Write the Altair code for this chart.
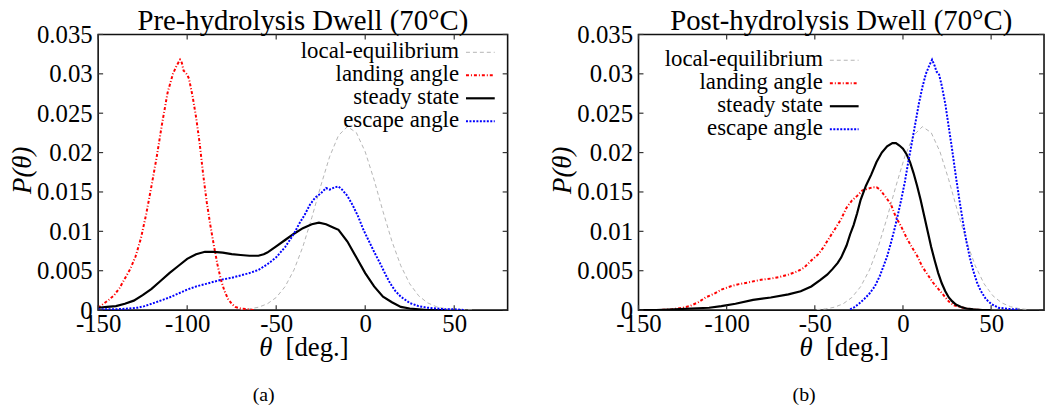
import altair as alt
import pandas as pd

SERIF = "Liberation Serif"

# axis ticks
X_TICKS = [-150, -100, -50, 0, 50]
Y_TICKS = [0, 0.005, 0.01, 0.015, 0.02, 0.025, 0.03, 0.035]

SERIES = ["local-equilibrium", "landing angle", "steady state", "escape angle"]
COLORS = ["#b4b4b4", "#ff0000", "#000000", "#0000ff"]
DASHES = [[4, 3], [3, 2, 1, 2], None, [2, 1.5]]
WIDTHS = [1, 2, 2.2, 2]

# ---- (a) pre-hydrolysis dwell ----
pre_eq_theta = [-70, -65, -60, -55, -50, -45, -40, -35, -30, -25, -20, -15, -10, -5,
                0, 5, 10, 15, 20, 25, 30, 35, 40, 45, 50, 55, 60]
pre_eq_p = [0.00006, 0.00015, 0.00036, 0.00079, 0.0016, 0.00298, 0.0051, 0.00806,
            0.01173, 0.01574, 0.01947, 0.02218, 0.02329, 0.02254, 0.0201, 0.01653,
            0.01252, 0.00874, 0.00563, 0.00334, 0.00182, 0.00092, 0.00043, 0.00018,
            0.00007, 0.00003, 0.00001]

pre_land_theta = [-150, -147, -144, -141, -138, -135, -132, -129, -126, -123, -120,
                  -117, -114, -111, -108, -106, -104, -103, -102, -101, -100, -99,
                  -97, -95, -93, -91, -89, -87, -85, -83, -81, -79, -77, -75, -73,
                  -70, -66, -62]
pre_land_p = [0.0003, 0.0008, 0.0013, 0.0019, 0.0028, 0.0040, 0.0052, 0.0068, 0.0091,
              0.0122, 0.0158, 0.0196, 0.0238, 0.0276, 0.0300, 0.0310, 0.0318, 0.0314,
              0.0304, 0.0302, 0.0299, 0.0294, 0.0272, 0.0245, 0.0212, 0.0172, 0.0137,
              0.0108, 0.0082, 0.0058, 0.0038, 0.0024, 0.0014, 0.0008, 0.0004, 0.0002,
              0.0001, 0.0000]

pre_ss_theta = [-150, -145, -140, -135, -130, -125, -120, -115, -110, -105, -100, -95,
                -90, -85, -80, -75, -70, -65, -60, -57, -55, -50, -45, -40, -35, -30,
                -26, -22, -18, -15, -10, -5, 0, 5, 10, 15, 20, 25, 30, 35, 45]
pre_ss_p = [0.0003, 0.0004, 0.0005, 0.0008, 0.0012, 0.0019, 0.0027, 0.0037, 0.0047,
            0.0056, 0.0065, 0.0071, 0.0074, 0.0074, 0.0073, 0.0071, 0.0070, 0.0069,
            0.0069, 0.0071, 0.0073, 0.0081, 0.0089, 0.0097, 0.0104, 0.0109, 0.0111,
            0.0109, 0.0105, 0.0102, 0.0087, 0.0067, 0.0047, 0.0030, 0.0017, 0.0010,
            0.0004, 0.0002, 0.0001, 0.0000, 0.0000]

pre_esc_theta = [-150, -140, -133, -128, -124, -120, -115, -110, -105, -100, -95, -90,
                 -85, -80, -75, -70, -65, -60, -55, -50, -45, -40, -37, -34, -31, -28,
                 -25, -22, -20, -17, -15, -13, -10, -7, -4, -1, 2, 5, 8, 11, 14, 17,
                 20, 25, 30, 35, 40, 45, 50, 56]
pre_esc_p = [0.0001, 0.0001, 0.0002, 0.0003, 0.0005, 0.0008, 0.0012, 0.0016, 0.0021,
             0.0026, 0.0030, 0.0033, 0.0036, 0.0039, 0.0041, 0.0044, 0.0047, 0.0051,
             0.0058, 0.0067, 0.0080, 0.0097, 0.0110, 0.0121, 0.0134, 0.0143, 0.0148,
             0.0155, 0.0153, 0.0156, 0.0157, 0.0153, 0.0145, 0.0133, 0.0119, 0.0102,
             0.0088, 0.0074, 0.0061, 0.0047, 0.0034, 0.0024, 0.0017, 0.0009, 0.0005,
             0.0003, 0.0002, 0.0001, 0.0001, 0.0000]

# ---- (b) post-hydrolysis dwell ----
post_eq_theta = [-49, -44, -39, -34, -29, -24, -19, -14, -9, -4, 1, 6, 11, 16, 21, 26,
                 31, 36, 41, 46, 51, 56, 61, 66, 71]
post_eq_p = [0.00006, 0.00015, 0.00036, 0.00079, 0.0016, 0.00298, 0.0051, 0.00806,
             0.01173, 0.01574, 0.01947, 0.02218, 0.02329, 0.02254, 0.0201, 0.01653,
             0.01252, 0.00874, 0.00563, 0.00334, 0.00182, 0.00092, 0.00043, 0.00018,
             0.00007]

post_land_theta = [-150, -140, -131, -125, -121, -116, -112, -107, -103, -98, -93, -88,
                   -84, -79, -75, -70, -65, -60, -56, -52, -48, -45, -42, -38, -35,
                   -32, -29, -26, -23, -20, -17, -15, -13, -10, -7, -4, -1, 2, 5, 8,
                   11, 14, 17, 20, 23, 26, 29, 32, 36, 40, 45]
post_land_p = [0.0000, 0.0000, 0.0001, 0.0003, 0.0005, 0.0010, 0.0016, 0.0021, 0.0026,
               0.0030, 0.0033, 0.0035, 0.0037, 0.0039, 0.0040, 0.0042, 0.0045, 0.0049,
               0.0054, 0.0063, 0.0071, 0.0080, 0.0091, 0.0105, 0.0116, 0.0130, 0.0139,
               0.0145, 0.0152, 0.0154, 0.0156, 0.0156, 0.0153, 0.0144, 0.0135, 0.0118,
               0.0106, 0.0092, 0.0080, 0.0069, 0.0055, 0.0045, 0.0035, 0.0027, 0.0019,
               0.0011, 0.0006, 0.0004, 0.0002, 0.0001, 0.0000]

post_ss_theta = [-150, -140, -130, -120, -110, -103, -95, -85, -75, -65, -58, -52, -47,
                 -43, -40, -37, -35, -32, -30, -28, -26, -24, -21, -18, -15, -12, -9,
                 -6, -4, -2, 0, 2, 4, 6, 8, 10, 12, 14, 16, 18, 20, 22, 24, 26, 28, 30,
                 33, 36, 40, 45, 50]
post_ss_p = [0.0000, 0.0000, 0.0001, 0.0002, 0.0003, 0.0005, 0.0008, 0.0013, 0.0016,
             0.0020, 0.0024, 0.0030, 0.0038, 0.0045, 0.0052, 0.0060, 0.0067, 0.0082,
             0.0096, 0.0108, 0.0123, 0.0140, 0.0158, 0.0172, 0.0188, 0.0200, 0.0208,
             0.0212, 0.0212, 0.0209, 0.0205, 0.0198, 0.0188, 0.0174, 0.0158, 0.0140,
             0.0120, 0.0100, 0.0080, 0.0063, 0.0047, 0.0034, 0.0024, 0.0016, 0.0011,
             0.0007, 0.0004, 0.0002, 0.0001, 0.0000, 0.0000]

post_esc_theta = [-30, -28, -25, -22, -19, -16, -13, -11, -9, -7, -5, -3, -1, 1, 3, 5,
                  7, 9, 11, 13, 15, 16.5, 18, 19, 20.5, 22, 24, 26, 28, 30, 32, 34, 36,
                  38, 40, 42, 44, 47, 50, 54, 58, 62, 66]
post_esc_p = [0.0001, 0.0003, 0.0008, 0.0014, 0.0021, 0.0030, 0.0044, 0.0056, 0.0068,
              0.0084, 0.0101, 0.0120, 0.0140, 0.0162, 0.0188, 0.0212, 0.0237, 0.0262,
              0.0283, 0.0300, 0.0311, 0.0318, 0.0310, 0.0303, 0.0299, 0.0285, 0.0262,
              0.0232, 0.0202, 0.0170, 0.0140, 0.0112, 0.0087, 0.0066, 0.0049, 0.0035,
              0.0025, 0.0014, 0.0008, 0.0003, 0.0002, 0.0001, 0.0001]

PRE = [(pre_eq_theta, pre_eq_p), (pre_land_theta, pre_land_p),
       (pre_ss_theta, pre_ss_p), (pre_esc_theta, pre_esc_p)]
POST = [(post_eq_theta, post_eq_p), (post_land_theta, post_land_p),
        (post_ss_theta, post_ss_p), (post_esc_theta, post_esc_p)]

H = 278
ROW_GAP = 23.2
X_SCALE = alt.Scale(domain=[-150, 80], nice=False, zero=False)
Y_SCALE = alt.Scale(domain=[0, 0.035], nice=False, zero=False)

X_AXIS = alt.Axis(values=X_TICKS, labelExpr="datum.value + ''", title=None,
                  ticks=False, tickSize=0, domain=False, grid=False,
                  labelFont=SERIF, labelFontSize=25, labelColor="#000",
                  labelPadding=2, labelFlush=False, labelOverlap=False)
Y_AXIS = alt.Axis(values=Y_TICKS, labelExpr="datum.value + ''", title=None,
                  ticks=False, tickSize=0, domain=False, grid=False,
                  labelFont=SERIF, labelFontSize=25, labelColor="#000",
                  labelPadding=6, labelFlush=False, labelOverlap=False)

ONE = pd.DataFrame({"k": [0]})


def text(label, x, y, size, align="center", baseline="alphabetic", style="normal", angle=0):
    return alt.Chart(ONE).mark_text(
        text=label, font=SERIF, fontSize=size, fontStyle=style, align=align,
        baseline=baseline, angle=angle, color="#000"
    ).encode(x=alt.value(x), y=alt.value(y))


def panel(curves, title, caption, width, leg_right, leg_top):
    layers = []
    # curves
    for (th, p), color, dash, sw in zip(curves, COLORS, DASHES, WIDTHS):
        df = pd.DataFrame({"theta": th, "P": p})
        kw = dict(color=color, strokeWidth=sw, clip=True)
        if dash is not None:
            kw["strokeDash"] = dash
        layers.append(
            alt.Chart(df).mark_line(**kw).encode(
                x=alt.X("theta:Q", scale=X_SCALE, axis=X_AXIS),
                y=alt.Y("P:Q", scale=Y_SCALE, axis=Y_AXIS),
            )
        )
    # inward ticks on all four sides
    xt = pd.DataFrame({"theta": X_TICKS})
    yt = pd.DataFrame({"P": Y_TICKS})
    tick = dict(color="#333", strokeWidth=1.2)
    layers.append(alt.Chart(xt).mark_rule(**tick).encode(
        x=alt.X("theta:Q", scale=X_SCALE, axis=X_AXIS), y=alt.value(H), y2=alt.value(H - 5)))
    layers.append(alt.Chart(xt).mark_rule(**tick).encode(
        x=alt.X("theta:Q", scale=X_SCALE, axis=X_AXIS), y=alt.value(0), y2=alt.value(5)))
    layers.append(alt.Chart(yt).mark_rule(**tick).encode(
        y=alt.Y("P:Q", scale=Y_SCALE, axis=Y_AXIS), x=alt.value(0), x2=alt.value(5)))
    layers.append(alt.Chart(yt).mark_rule(**tick).encode(
        y=alt.Y("P:Q", scale=Y_SCALE, axis=Y_AXIS), x=alt.value(width - 5), x2=alt.value(width)))
    # key: label on the left, line sample on the right
    for i, (name, color, dash, sw) in enumerate(zip(SERIES, COLORS, DASHES, WIDTHS)):
        yy = leg_top + i * ROW_GAP
        layers.append(text(name, leg_right, yy + 6, 23, align="right"))
        kw = dict(color=color, strokeWidth=sw)
        if dash is not None:
            kw["strokeDash"] = dash
        layers.append(alt.Chart(ONE).mark_rule(**kw).encode(
            x=alt.value(leg_right + 7), x2=alt.value(leg_right + 36), y=alt.value(yy)))
    # titles and caption
    layers.append(text(title, width / 2, -5, 29))
    layers.append(text("P(θ)", -76, H / 2 - 2, 27, baseline="middle", style="italic", angle=270))
    layers.append(text("θ", 169, 324, 27, style="italic"))
    layers.append(text("[deg.]", 189, 324, 27, align="left"))
    layers.append(text(caption, 167, 370, 20))
    return alt.layer(*layers).properties(width=width, height=H)


left = panel(PRE, "Pre-hydrolysis Dwell (70°C)", "(a)", 413, 364, 18)
right = panel(POST, "Post-hydrolysis Dwell (70°C)", "(b)", 409, 186, 26)

chart = alt.hconcat(left, right, spacing=39).properties(
    padding={"left": 8, "top": 4, "right": 0, "bottom": 0},
    background="white",
).configure_view(
    stroke="#111", strokeWidth=1.6
).configure_axis(
    labelFont=SERIF, labelFontSize=25, labelColor="#000"
).configure_text(font=SERIF)

chart.save("out.html", embed_options={"renderer": "svg", "actions": False})
